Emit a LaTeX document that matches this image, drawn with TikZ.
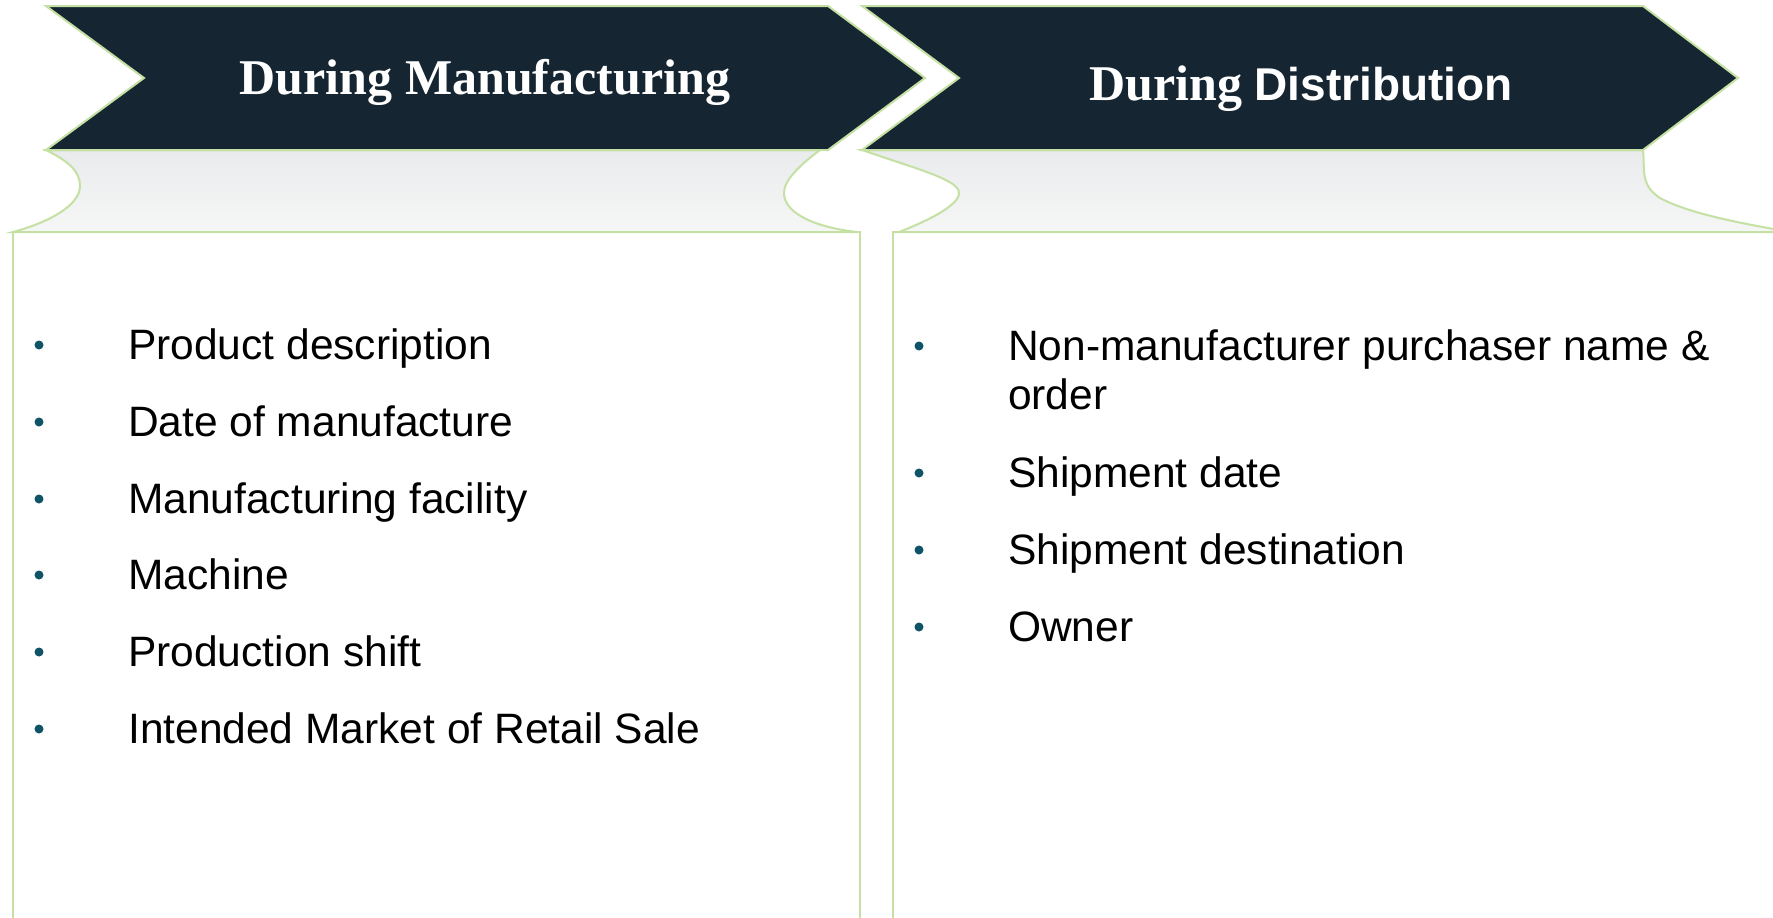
\documentclass[tikz,border=0pt]{standalone}
\usepackage{fontspec}
\setmainfont{Liberation Serif}
\newfontfamily\arialf{Liberation Sans}
\newfontfamily\arialbf{Liberation Sans Bold}
\definecolor{hdr}{RGB}{21,38,50}
\definecolor{edgegreen}{RGB}{197,224,163}
\definecolor{wtop}{RGB}{234,235,237}
\definecolor{wbot}{RGB}{245,246,245}
\definecolor{bul}{RGB}{15,84,102}
\begin{document}
\begin{tikzpicture}[x=1pt,y=-1pt,
  hdrshape/.style={fill=hdr, draw=edgegreen, line width=2pt},
  wave/.style={draw=edgegreen, line width=2pt, top color=wtop, bottom color=wbot},
  panel/.style={draw=edgegreen, line width=2pt, fill=white},
  bulletdot/.style={circle, fill=bul, inner sep=0pt, minimum size=9pt},
  item/.style={anchor=base west, inner sep=0pt, font=\arialf\fontsize{42.5}{49}\selectfont, align=left},
  title/.style={text=white, inner sep=0pt, anchor=base}]
\useasboundingbox[fill=white] (0,0) rectangle (1773,918);
\begin{scope}
\clip (0,0) rectangle (1773,918);
% panels
\draw[panel] (13,232) rectangle (860,940);
\draw[panel] (893,232) rectangle (1800,940);
% wavy connectors
\draw[wave] (46,150) -- (820,150) .. controls (800,165) and (784,180) .. (784,193)
  .. controls (784,215) and (820,228) .. (857,232) -- (13,232)
  .. controls (50,222) and (80,205) .. (80,186) .. controls (80,172) and (70,162) .. (46,150) -- cycle;
\draw[wave] (862,150) -- (1643,150) .. controls (1645,170) and (1640,185) .. (1660,198)
  .. controls (1690,214) and (1740,223) .. (1790,232) -- (899,232)
  .. controls (930,220) and (959,205) .. (959,193) .. controls (959,180) and (920,170) .. (862,150) -- cycle;
% chevrons
\draw[hdrshape] (46,6) -- (828,6) -- (925,78) -- (828,150) -- (46,150) -- (144,78) -- cycle;
\draw[hdrshape] (862,6) -- (1643,6) -- (1738,78) -- (1643,150) -- (862,150) -- (959,78) -- cycle;
\end{scope}
% titles
\node[title, font=\bfseries\fontsize{50}{60}\selectfont] (t1) at (485,94) {During Manufacturing};
\node[title, font=\fontsize{50}{60}\selectfont] (t2) at (1301,100) {{\bfseries During} {\arialbf\fontsize{46}{60}\selectfont Distribution}};
% left items
\foreach \i/\yy/\txt in {1/359/Product description, 2/436/Date of manufacture, 3/513/Manufacturing facility, 4/589/Machine, 5/666/Production shift, 6/743/Intended Market of Retail Sale}{
  \node[bulletdot] (lb\i) at (39,\yy-14) {};
  \node[item] (li\i) at (128,\yy) {\txt};
}
% right items
\node[bulletdot] (rb1) at (919,346) {};
\node[item] (ri1) at (1008,409) {Non-manufacturer purchaser name \&\\order};
\foreach \i/\yy/\txt in {2/487/Shipment date, 3/564/Shipment destination, 4/641/Owner}{
  \node[bulletdot] (rb\i) at (919,\yy-14) {};
  \node[item] (ri\i) at (1008,\yy) {\txt};
}
\end{tikzpicture}
\end{document}
